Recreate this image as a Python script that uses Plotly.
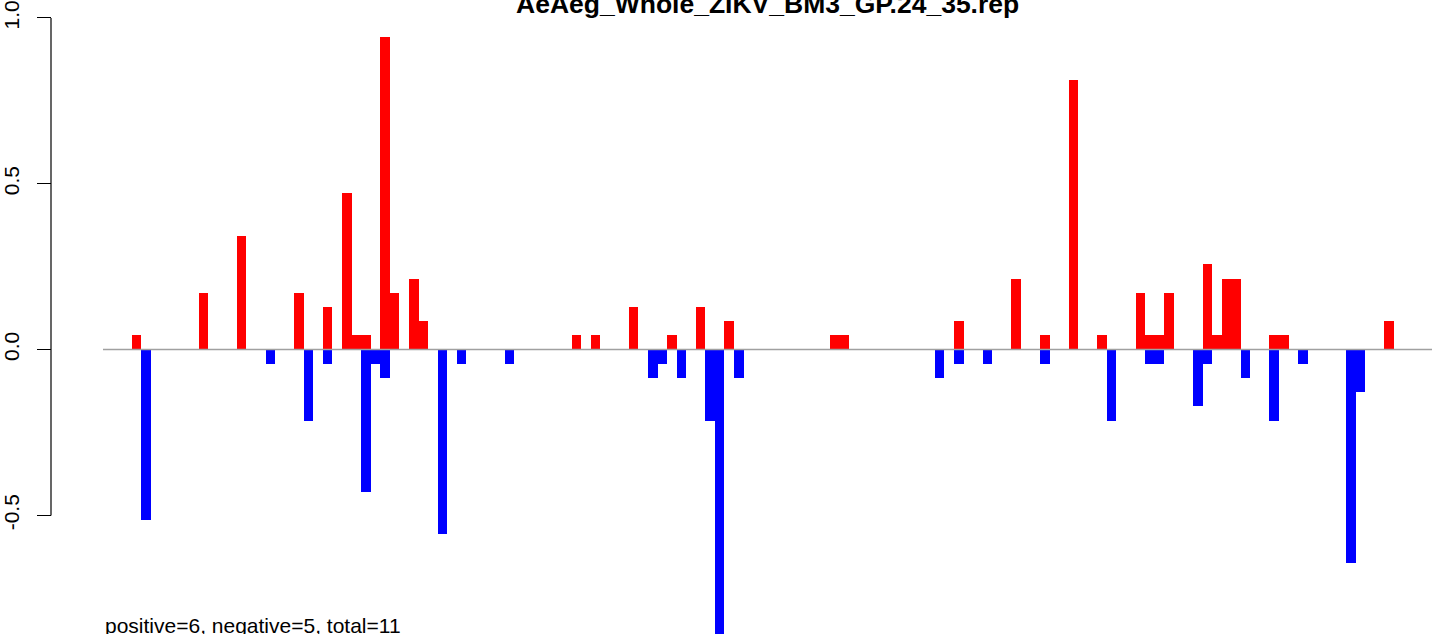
import plotly.graph_objects as go

# ---- data ----
title_text = "AeAeg_Whole_ZIKV_BM3_GP.24_35.rep"
footer_text = "positive=6, negative=5, total=11"
n_positions = 139

pos_index = [3, 10, 14, 20, 23, 25, 26, 27, 29, 30, 32, 33, 49, 51, 55, 59, 62, 65,
             76, 77, 89, 95, 98, 101, 104, 108, 109, 110, 111, 115, 116, 117, 118,
             122, 123, 134]
pos_value = [0.043, 0.171, 0.343, 0.171, 0.129, 0.471, 0.043, 0.043, 0.943, 0.171,
             0.214, 0.086, 0.043, 0.043, 0.129, 0.043, 0.129, 0.086, 0.043, 0.043,
             0.086, 0.214, 0.043, 0.814, 0.043, 0.171, 0.043, 0.043, 0.171, 0.257,
             0.043, 0.214, 0.214, 0.043, 0.043, 0.086]

neg_index = [4, 17, 21, 23, 27, 28, 29, 35, 37, 42, 57, 58, 60, 63, 64, 66, 87, 89,
             92, 98, 105, 109, 110, 114, 115, 119, 122, 125, 130, 131]
neg_value = [-0.514, -0.043, -0.214, -0.043, -0.429, -0.043, -0.086, -0.557, -0.043,
             -0.043, -0.086, -0.043, -0.086, -0.214, -0.857, -0.086, -0.086, -0.043,
             -0.043, -0.043, -0.214, -0.043, -0.043, -0.171, -0.043, -0.086, -0.214,
             -0.043, -0.643, -0.129]

y_tick_values = [-0.5, 0.0, 0.5, 1.0]
y_tick_labels = ["-0.5", "0.0", "0.5", "1.0"]

# ---- layout constants ----
W, H = 1444, 634
plot_left, plot_right = 103, 1432
axis_x = 51
font_family = "Liberation Sans, Arial, Helvetica, sans-serif"

fig = go.Figure()
fig.add_trace(go.Bar(x=[i + 0.5 for i in pos_index], y=pos_value, width=1,
                     marker=dict(color="#FF0000", line=dict(width=0)), showlegend=False))
fig.add_trace(go.Bar(x=[i + 0.5 for i in neg_index], y=neg_value, width=1,
                     marker=dict(color="#0000FF", line=dict(width=0)), showlegend=False))

# zero reference line across the positions
fig.add_shape(type="line", xref="x", yref="y", x0=0, x1=n_positions, y0=0, y1=0,
              line=dict(color="#A0A0A0", width=1.5), layer="above")
# y axis line spanning the tick range
fig.add_shape(type="line", xref="paper", yref="y", x0=axis_x / W, x1=axis_x / W,
              y0=min(y_tick_values), y1=max(y_tick_values),
              line=dict(color="black", width=1.2))

fig.add_annotation(text="<b>" + title_text + "</b>", xref="paper", yref="paper",
                   x=(plot_left + plot_right) / 2 / W, y=1.0, xanchor="center", yanchor="middle",
                   yshift=-2, showarrow=False,
                   font=dict(family=font_family, size=26.5, color="black"))
fig.add_annotation(text=footer_text, xref="paper", yref="paper",
                   x=plot_left / W, y=0, xanchor="left", yanchor="middle", yshift=9,
                   showarrow=False, font=dict(family=font_family, size=21, color="black"))

fig.update_layout(
    width=W, height=H,
    margin=dict(l=0, r=0, t=0, b=0, pad=0),
    paper_bgcolor="white", plot_bgcolor="white",
    barmode="overlay", bargap=0,
    xaxis=dict(domain=[plot_left / W, plot_right / W], range=[0, n_positions],
               visible=False, showgrid=False, zeroline=False),
    yaxis=dict(range=[-0.8577, 1.0481], anchor="free", position=axis_x / W,
               showgrid=False, zeroline=False, showline=False,
               tickmode="array", tickvals=y_tick_values, ticktext=y_tick_labels,
               ticks="outside", ticklen=14, tickwidth=1.2, tickcolor="black",
               tickangle=-90, ticklabelstandoff=10, ticklabeloverflow="allow",
               tickfont=dict(family=font_family, size=21, color="black")),
    font=dict(family=font_family),
)

fig.write_html("out.html", config={"displayModeBar": False},
               post_script="document.body.style.margin='0';document.body.style.padding='0';")
